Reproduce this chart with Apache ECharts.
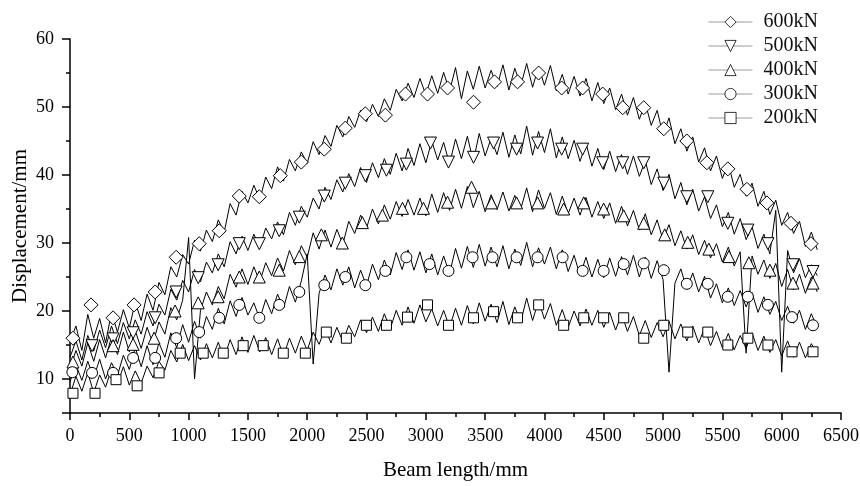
<!DOCTYPE html>
<html>
<head>
<meta charset="utf-8">
<script src="https://cdn.jsdelivr.net/npm/echarts@6/dist/echarts.min.js"></script>
<style>
  html, body { margin: 0; padding: 0; background: #fff; }
  #chart { width: 860px; height: 486px; }
</style>
</head>
<body>
<div id="chart"></div>
<script>
// 荷载名称
var loadNames = ['600kN', '500kN', '400kN', '300kN', '200kN'];

// 实测曲线 (每 50mm 一个读数, 从 0 开始)
var traceStep = 50;
var trace600 = [15.5,17.8,14.2,19.5,16.0,18.9,15.3,19.8,16.9,20.2,17.5,21.3,18.6,22.5,20.1,24.2,22.4,26.5,25.0,28.3,26.9,30.4,28.8,31.9,30.2,33.4,31.6,35.8,34.1,37.6,35.9,38.5,36.4,39.7,38.0,41.2,39.1,42.3,40.6,43.4,41.7,44.9,43.0,45.8,44.2,47.3,45.6,48.6,47.0,49.5,47.8,50.4,48.6,51.2,49.5,52.6,50.9,53.5,51.4,54.2,51.8,54.6,52.0,55.1,52.3,55.8,51.2,55.3,52.6,56.0,52.8,55.4,53.0,56.2,52.5,55.7,53.1,56.4,52.9,55.9,53.2,56.1,52.4,54.8,51.9,54.5,51.6,54.2,50.9,53.6,50.5,52.8,49.6,51.9,48.8,51.4,48.2,50.6,47.3,49.5,45.9,48.4,44.6,46.8,43.5,45.6,41.9,44.0,40.6,42.8,39.5,41.7,38.2,40.1,36.9,38.8,35.4,37.6,34.2,36.3,32.6,34.5,31.4,33.2,29.5,31.6,29.0];
var trace500 = [13.2,15.6,12.8,16.4,14.1,17.2,14.6,17.8,15.2,18.3,15.9,18.7,16.6,19.9,17.8,21.0,19.4,23.2,21.6,24.5,22.8,26.1,24.3,27.2,25.6,28.4,26.5,30.2,28.4,31.0,28.9,31.3,29.4,32.2,30.6,33.1,31.2,34.5,32.6,35.4,33.8,36.6,35.0,38.2,36.4,39.3,37.5,40.2,38.3,41.1,38.9,41.8,39.6,42.4,40.1,43.2,40.6,43.9,41.4,44.6,41.8,45.0,42.2,44.8,41.6,45.3,42.4,45.7,42.0,46.1,42.8,45.4,43.0,46.3,42.6,45.9,43.1,47.2,42.9,46.4,43.3,46.8,42.5,45.6,42.4,45.1,42.0,44.7,41.3,43.9,40.8,43.5,40.5,43.0,40.1,42.8,39.8,42.1,38.6,40.9,37.7,40.1,36.5,38.9,35.6,37.9,34.7,36.8,33.6,35.6,32.4,34.5,31.3,33.6,30.5,32.4,29.2,31.3,28.4,34.8,11.0,28.9,25.6,27.7,24.9,26.8,25.2];
var trace400 = [11.4,14.2,11.9,15.3,12.6,15.8,13.1,16.2,13.6,16.9,14.0,17.1,14.5,17.6,15.2,18.4,16.6,20.5,18.7,21.6,30.8,10.0,20.1,22.8,20.9,23.6,21.8,25.4,23.5,26.2,23.9,26.5,24.3,27.1,25.2,27.8,25.9,28.9,26.8,29.6,27.9,31.5,29.1,31.9,29.4,32.0,29.8,33.2,31.4,34.1,32.2,35.0,32.8,35.6,33.5,36.1,33.9,36.4,34.1,36.6,34.0,37.2,34.5,37.4,34.8,37.9,35.1,38.3,35.2,37.6,34.6,37.1,34.9,37.5,34.7,37.0,35.0,38.1,34.6,37.8,35.1,37.4,34.2,36.9,34.3,36.6,34.1,36.7,33.8,36.1,33.6,35.9,32.9,35.4,32.5,34.8,31.9,34.3,31.2,33.4,30.4,32.7,29.6,31.8,29.1,31.2,28.3,30.4,27.8,29.9,27.2,29.4,26.6,28.7,13.8,28.1,25.4,27.5,24.8,27.0,23.6,26.1,23.1,25.4,22.6,25.0,22.8];
var trace300 = [9.6,12.1,9.8,12.6,10.2,12.9,10.0,12.4,10.5,13.5,11.4,14.6,11.8,14.9,12.1,15.3,13.2,16.8,14.6,18.0,15.4,18.5,16.0,19.2,17.3,20.4,18.1,21.5,19.2,22.0,19.4,21.2,18.8,21.7,19.6,22.5,20.4,23.6,21.3,24.4,28.4,12.2,22.6,25.3,23.1,26.2,23.8,26.5,23.4,26.0,23.7,26.9,24.6,27.5,25.3,28.6,26.1,29.0,26.0,28.7,25.6,28.4,25.3,28.1,25.5,29.2,26.3,29.5,26.4,29.8,26.6,29.4,26.5,29.6,26.2,29.1,26.7,30.1,26.5,29.3,26.9,29.4,26.2,29.0,25.8,28.2,25.2,27.9,25.0,27.6,24.9,27.8,25.1,28.0,25.3,28.2,25.0,27.9,24.8,27.4,24.6,11.0,24.1,26.2,23.2,25.6,22.8,25.1,21.9,24.0,21.2,23.4,20.8,23.0,20.6,22.7,19.8,22.1,19.5,21.4,18.6,20.7,18.2,20.1,17.3,19.6,17.5];
var trace200 = [7.6,10.4,8.2,10.9,8.0,10.6,8.8,11.5,9.3,11.8,9.1,11.2,9.4,11.9,10.2,12.6,11.3,14.2,12.5,15.1,12.7,14.9,12.8,15.2,13.1,15.4,13.0,15.8,13.6,16.2,13.9,16.4,14.0,16.1,13.6,15.9,13.4,16.0,13.8,16.3,14.2,16.9,15.1,17.4,15.3,17.6,15.5,17.9,16.2,18.7,16.8,19.1,17.0,19.6,17.4,20.1,17.9,20.6,18.2,20.9,18.4,20.3,17.8,20.1,17.6,20.4,17.9,20.8,18.1,21.2,18.5,21.0,18.3,21.4,18.0,20.6,18.4,21.9,18.6,21.5,18.8,21.1,17.9,20.2,17.6,20.0,17.8,20.3,17.9,20.1,17.6,19.8,17.2,19.6,17.0,19.2,16.4,18.6,16.1,18.3,16.2,18.5,15.9,18.1,15.6,17.8,15.3,17.5,14.9,17.0,14.6,16.7,14.3,16.4,14.5,16.8,14.2,16.3,13.9,15.8,13.4,15.6,13.2,15.4,13.1,15.2,13.6];

// 标记点 [梁长 mm, 位移 mm]
var mark600 = [[25,16.0],[177,20.9],[363,19.0],[540,20.9],[718,22.8],[895,27.9],[1089,29.9],[1258,31.8],[1427,36.9],[1596,36.8],[1773,39.9],[1950,41.9],[2144,43.8],[2321,46.9],[2490,49.0],[2659,48.8],[2828,51.9],[3014,51.9],[3183,52.8],[3402,50.7],[3579,53.7],[3773,53.7],[3951,55.0],[4145,52.8],[4322,52.8],[4491,51.9],[4660,49.9],[4837,49.9],[5006,46.8],[5200,45.0],[5369,41.8],[5546,40.9],[5707,37.9],[5875,35.9],[6078,32.9],[6247,29.9]];
var mark500 = [[186,14.9],[363,15.9],[532,16.8],[718,19.0],[895,22.8],[1081,24.9],[1249,26.8],[1427,29.9],[1596,29.9],[1764,31.8],[1933,33.8],[2144,36.9],[2321,38.8],[2490,39.9],[2668,40.7],[2836,41.6],[3039,44.7],[3191,41.9],[3402,42.6],[3571,44.7],[3765,43.8],[3942,44.7],[4145,43.8],[4322,43.8],[4491,41.8],[4660,41.8],[4837,41.8],[5006,38.8],[5200,36.8],[5377,36.8],[5546,32.9],[5715,31.9],[5884,29.9],[6095,26.8],[6264,25.8]];
var mark400 = [[25,12.5],[363,14.9],[532,15.1],[709,16.0],[886,20.0],[1081,21.2],[1249,22.1],[1427,25.0],[1596,25.0],[1764,26.0],[1933,28.0],[2119,31.2],[2296,30.0],[2465,33.0],[2634,34.1],[2803,35.1],[2980,35.1],[3183,36.0],[3385,38.2],[3554,35.9],[3765,35.9],[3942,35.9],[4162,35.0],[4331,35.9],[4499,35.0],[4668,34.0],[4837,32.9],[5014,31.2],[5208,30.1],[5386,29.1],[5555,28.0],[5723,27.1],[5901,26.0],[6095,24.1],[6264,24.1]];
var mark300 = [[20,11.0],[186,10.9],[363,10.9],[532,13.1],[718,13.1],[895,16.0],[1089,16.9],[1258,19.0],[1427,20.9],[1596,19.0],[1764,20.9],[1933,22.8],[2144,23.8],[2321,25.0],[2490,23.8],[2659,25.9],[2836,27.9],[3031,26.9],[3191,25.9],[3394,27.9],[3562,27.9],[3765,27.9],[3942,27.9],[4153,27.9],[4322,25.9],[4499,25.9],[4668,26.9],[4837,27.0],[5006,26.0],[5200,24.0],[5377,24.0],[5546,22.1],[5715,22.1],[5884,20.9],[6087,19.1],[6264,17.9]];
var mark200 = [[25,7.9],[211,7.9],[388,9.9],[566,9.0],[751,10.9],[929,13.8],[1123,13.8],[1292,13.8],[1460,14.9],[1629,14.9],[1798,13.8],[1984,13.8],[2161,16.9],[2330,16.0],[2499,17.9],[2668,17.9],[2845,19.1],[3014,20.9],[3191,17.9],[3402,19.0],[3571,19.9],[3773,19.0],[3951,20.9],[4162,17.9],[4331,19.0],[4499,19.0],[4668,19.0],[4837,16.0],[5006,17.9],[5208,16.9],[5377,16.9],[5546,15.0],[5715,16.0],[5884,15.0],[6087,14.0],[6264,14.0]];

var traces = [trace600, trace500, trace400, trace300, trace200];
var marks = [mark600, mark500, mark400, mark300, mark200];
var symbols = ['diamond', 'triangle', 'triangle', 'circle', 'rect'];
var symbolRotates = [0, 180, 0, 0, 0];
var symbolSizes = [14, 12, 12, 11, 10];

var font = '"Liberation Serif", "DejaVu Serif", serif';

function toPairs(arr) {
    var out = [];
    for (var i = 0; i < arr.length; i++) {
        out.push([i * traceStep, arr[i]]);
    }
    return out;
}

function plain(v) {
    return String(v);
}

var series = [];
// 先画实测曲线
for (var i = 0; i < traces.length; i++) {
    series.push({
        name: loadNames[i] + ' trace',
        type: 'line',
        data: toPairs(traces[i]),
        symbol: 'none',
        silent: true,
        z: 2,
        lineStyle: {color: '#000', width: 1}
    });
}
// 再画标记点
for (var j = 0; j < marks.length; j++) {
    series.push({
        name: loadNames[j],
        type: 'line',
        data: marks[j],
        symbol: symbols[j],
        symbolRotate: symbolRotates[j],
        symbolSize: symbolSizes[j],
        showAllSymbol: true,
        silent: true,
        z: 3,
        lineStyle: {opacity: 0},
        itemStyle: {color: '#fff', borderColor: '#000', borderWidth: 1}
    });
}

var chart = echarts.init(document.getElementById('chart'));
var option = {
    animation: false,
    backgroundColor: '#fff',
    grid: {left: 70, right: 19, top: 39, bottom: 73, outerBoundsMode: 'none', containLabel: false},
    legend: {
        data: loadNames,
        orient: 'vertical',
        left: 708,
        top: 12,
        padding: 0,
        itemWidth: 44,
        itemHeight: 14,
        itemGap: 4,
        lineStyle: {color: '#9a9a9a', width: 1, opacity: 1},
        itemStyle: {borderWidth: 0.8},
        textStyle: {fontFamily: font, fontSize: 20, lineHeight: 16, color: '#111', padding: [0, 0, 0, 6]}
    },
    xAxis: {
        type: 'value',
        min: 0,
        max: 6500,
        interval: 500,
        name: 'Beam length/mm',
        nameLocation: 'middle',
        nameGap: 47,
        nameMoveOverlap: false,
        nameTextStyle: {fontFamily: font, fontSize: 21, color: '#000'},
        axisLine: {lineStyle: {color: '#000', width: 1.5}},
        axisTick: {length: 7, lineStyle: {color: '#000', width: 1.5}},
        minorTick: {show: true, splitNumber: 2, length: 4, lineStyle: {color: '#000', width: 1.5}},
        axisLabel: {fontFamily: font, fontSize: 18, color: '#000', margin: 14, formatter: plain},
        splitLine: {show: false}
    },
    yAxis: {
        type: 'value',
        min: 5,
        max: 60,
        splitNumber: 5,
        name: 'Displacement/mm',
        nameLocation: 'middle',
        nameGap: 39,
        nameMoveOverlap: false,
        nameTextStyle: {fontFamily: font, fontSize: 21, color: '#000'},
        axisLine: {show: true, lineStyle: {color: '#000', width: 1.5}},
        axisTick: {show: true, length: 8, lineStyle: {color: '#000', width: 1.5}},
        minorTick: {show: true, splitNumber: 2, length: 4, lineStyle: {color: '#000', width: 1.5}},
        axisLabel: {fontFamily: font, fontSize: 18, color: '#000', margin: 16, showMinLabel: false, formatter: plain},
        splitLine: {show: false}
    },
    series: series
};
chart.setOption(option);
</script>
</body>
</html>
